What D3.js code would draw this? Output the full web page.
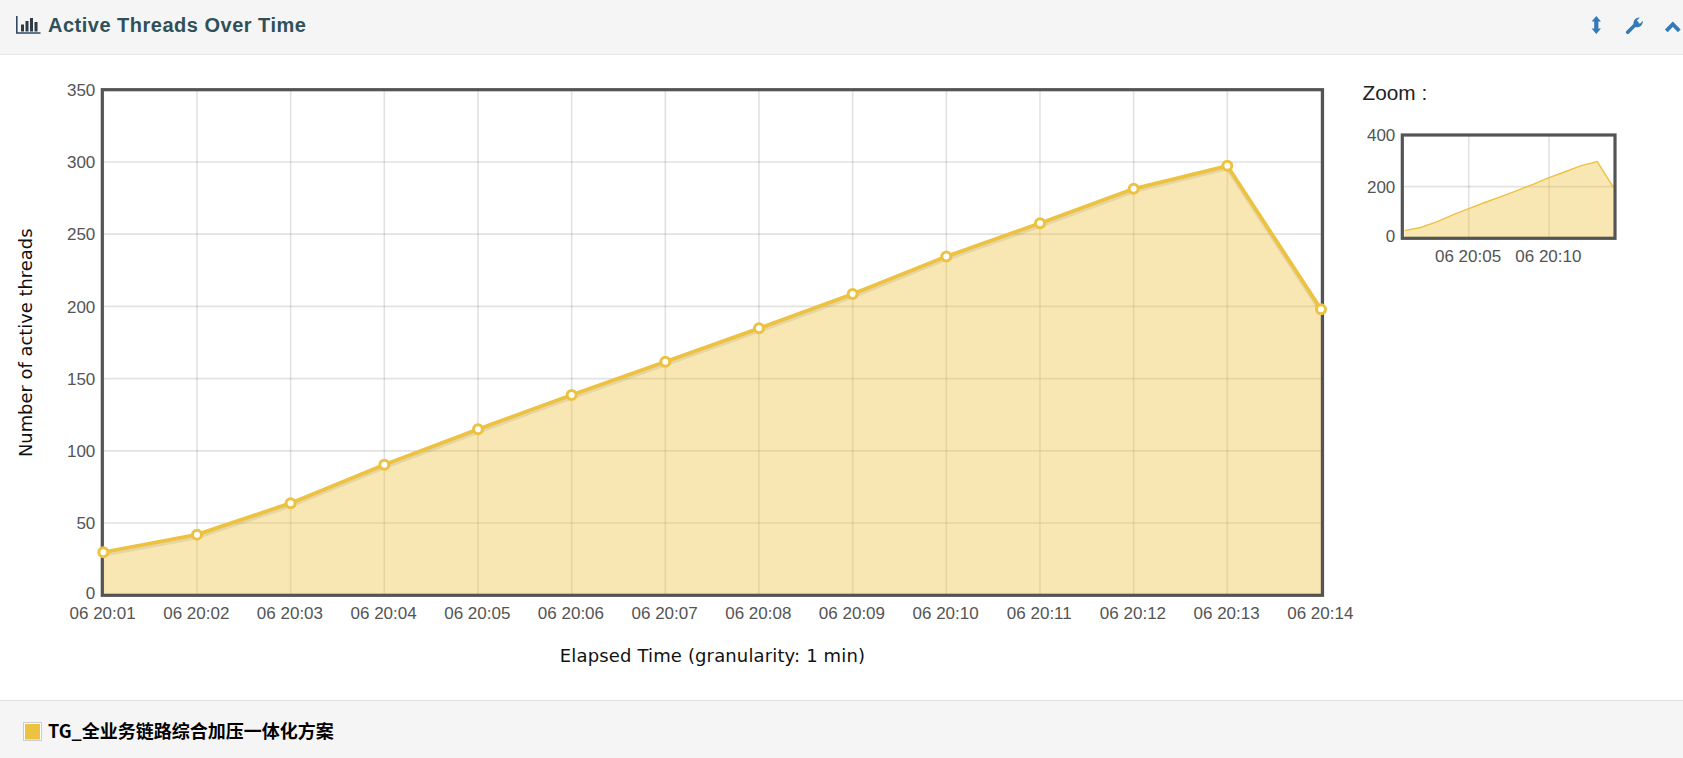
<!DOCTYPE html>
<html><head><meta charset="utf-8">
<script src="https://cdn.jsdelivr.net/npm/d3@7"></script>
<style>
html,body{margin:0;padding:0;background:#fff;overflow:hidden}
svg{display:block}
text{font-family:"Liberation Sans",Arial,sans-serif}
</style></head><body><svg id="c" width="1683" height="758"></svg>
<script>
const timeLabels=["06 20:01","06 20:02","06 20:03","06 20:04","06 20:05","06 20:06","06 20:07","06 20:08","06 20:09","06 20:10","06 20:11","06 20:12","06 20:13","06 20:14"];
const minutes=[1,2,3,4,5,6,7,8,9,10,11,12,13,14];
const activeThreads=[29.8,42,63.8,90.4,114.9,138.7,161.7,184.8,208.6,234.6,257.6,281.4,297.3,198];
const yTicksMain=[0,50,100,150,200,250,300,350];
const yTicksZoom=[0,200,400];
const xTicksZoom=[5,10];
const seriesName="TG_全业务链路综合加压一体化方案";
const title="Active Threads Over Time";
const yLabel="Number of active threads";
const xLabel="Elapsed Time (granularity: 1 min)";

const color="#edc240", ink="#545454", gridCol="rgba(84,84,84,0.17)";
const svg=d3.select("#c");
const data=minutes.map((m,i)=>({m,v:activeThreads[i]}));
const lab=m=>timeLabels[minutes.indexOf(m)];

// header and footer bands
svg.append("rect").attr("width",1683).attr("height",55).attr("fill","#f5f5f5");
svg.append("line").attr("x1",0).attr("x2",1683).attr("y1",54.5).attr("y2",54.5).attr("stroke","#e8e8e8");
svg.append("rect").attr("y",700).attr("width",1683).attr("height",58).attr("fill","#f5f5f5");
svg.append("line").attr("x1",0).attr("x2",1683).attr("y1",700.5).attr("y2",700.5).attr("stroke","#e0e0e0");

// title
svg.append("text").attr("x",48).attr("y",31.7).attr("font-size",20).attr("font-weight","bold").attr("fill","#2f5059").attr("letter-spacing",0.5).text(title);
const ic=svg.append("g");
ic.append("path").attr("d","M16.8 16V33H40.5").attr("fill","none").attr("stroke","#2e4a63").attr("stroke-width",1.6);
[[21,24.5,7],[25.5,21,10.5],[30,18,13.5],[34.5,22,9.5]].forEach(b=>ic.append("rect").attr("x",b[0]).attr("y",b[1]).attr("width",3).attr("height",b[2]).attr("fill","#2e3a45"));

// header icons
const blue="#337ab7";
svg.append("path").attr("fill",blue).attr("d","M1596.3 16L1601 21.5H1598.4V28.5H1601L1596.3 34L1591.6 28.5H1594.2V21.5H1591.6Z");
svg.append("path").attr("fill","none").attr("stroke",blue).attr("stroke-width",3.6).attr("stroke-linecap","round").attr("d","M1627.7 32.3L1637 23");
svg.append("path").attr("fill",blue).attr("d","M1634 25c-1.6-3.6 1-7.8 5.8-7.6l-2.9 3 .7 2.5 2.6.6 2.6-2.8c.4 4.5-3.6 7.6-7.4 6.2z");
svg.append("path").attr("fill","none").attr("stroke",blue).attr("stroke-width",3.8).attr("d","M1666.3 30.8L1672.8 24.2L1679.3 30.8");

function chart(o){
  const x=d3.scaleLinear().domain([1,14]).range([o.l,o.r]);
  const y=d3.scaleLinear().domain(o.yd).range([o.b,o.t]);
  const g=svg.append("g");
  g.append("g").selectAll("line").data(o.xt).join("line").attr("x1",d=>x(d)).attr("x2",d=>x(d)).attr("y1",o.t).attr("y2",o.b).attr("stroke",gridCol).attr("stroke-width",1.6);
  g.append("g").selectAll("line").data(o.yt).join("line").attr("x1",o.fl).attr("x2",o.fr).attr("y1",d=>y(d)).attr("y2",d=>y(d)).attr("stroke",gridCol).attr("stroke-width",1.6);
  const area=d3.area().x(d=>x(d.m)).y0(y(0)).y1(d=>y(d.v));
  const line=d3.line().x(d=>x(d.m)).y(d=>y(d.v));
  g.append("path").datum(data).attr("d",area).attr("fill",color).attr("fill-opacity",0.4);
  if(o.main){
    g.append("path").datum(data).attr("d",line).attr("fill","none").attr("stroke","rgba(0,0,0,0.07)").attr("stroke-width",4).attr("transform","translate(0,2.6)");
  }
  g.append("path").datum(data).attr("d",line).attr("fill","none").attr("stroke",color).attr("stroke-width",o.lw);
  g.append("rect").attr("x",o.fl).attr("y",o.t).attr("width",o.fr-o.fl).attr("height",o.b-o.t).attr("fill","none").attr("stroke",ink).attr("stroke-width",3.2);
  if(o.main){
    g.append("g").selectAll("circle").data(data).join("circle").attr("cx",d=>x(d.m)).attr("cy",d=>y(d.v)).attr("r",4.5).attr("fill","#fff").attr("stroke",color).attr("stroke-width",3);
  }
  const ax=g.append("g").attr("transform",`translate(-1.2,${o.b})`).call(d3.axisBottom(x).tickValues(o.xt).tickFormat(lab).tickSize(0).tickPadding(12));
  const ay=g.append("g").attr("transform",`translate(${o.fl},0)`).call(d3.axisLeft(y).tickValues(o.yt).tickSize(0).tickPadding(7));
  [ax,ay].forEach(a=>{a.select(".domain").remove();a.selectAll("text").attr("fill",ink).attr("font-size",17).attr("font-family",'"Liberation Sans",Arial,sans-serif');});
  ay.selectAll(".tick text").attr("dy",d=>d===0?"0.2em":"0.33em");
}
chart({main:true,l:103.3,r:1321,fl:102.3,fr:1322.5,t:89.7,b:595.3,yd:[0,350],xt:minutes,yt:yTicksMain,lw:3.8});
chart({main:false,l:1404.5,r:1613.3,fl:1402.3,fr:1615,t:135,b:238.3,yd:[0,400],xt:xTicksZoom,yt:yTicksZoom,lw:1.4});

// axis labels
svg.append("text").attr("transform","translate(31.5,342.8) rotate(-90)").attr("text-anchor","middle").attr("font-size",17.9).attr("fill","#111").style("font-family",'"DejaVu Sans",sans-serif').text(yLabel);
svg.append("text").attr("x",712.5).attr("y",662.3).attr("text-anchor","middle").attr("font-size",18).attr("letter-spacing",0.14).attr("fill","#111").style("font-family",'"DejaVu Sans",sans-serif').text(xLabel);
svg.append("text").attr("x",1362.5).attr("y",99.5).attr("font-size",20.8).attr("fill","#222").text("Zoom :");

// legend
svg.append("rect").attr("x",23.5).attr("y",722.5).attr("width",18).attr("height",18).attr("fill","#fff").attr("stroke","#ccc");
svg.append("rect").attr("x",25).attr("y",724).attr("width",15).attr("height",15.5).attr("fill",color);
svg.append("text").attr("x",48).attr("y",737.5).attr("font-size",18).attr("font-weight","bold").attr("fill","#000").style("font-family",'"Noto Sans CJK SC","Noto Sans",sans-serif').text(seriesName);
</script></body></html>
